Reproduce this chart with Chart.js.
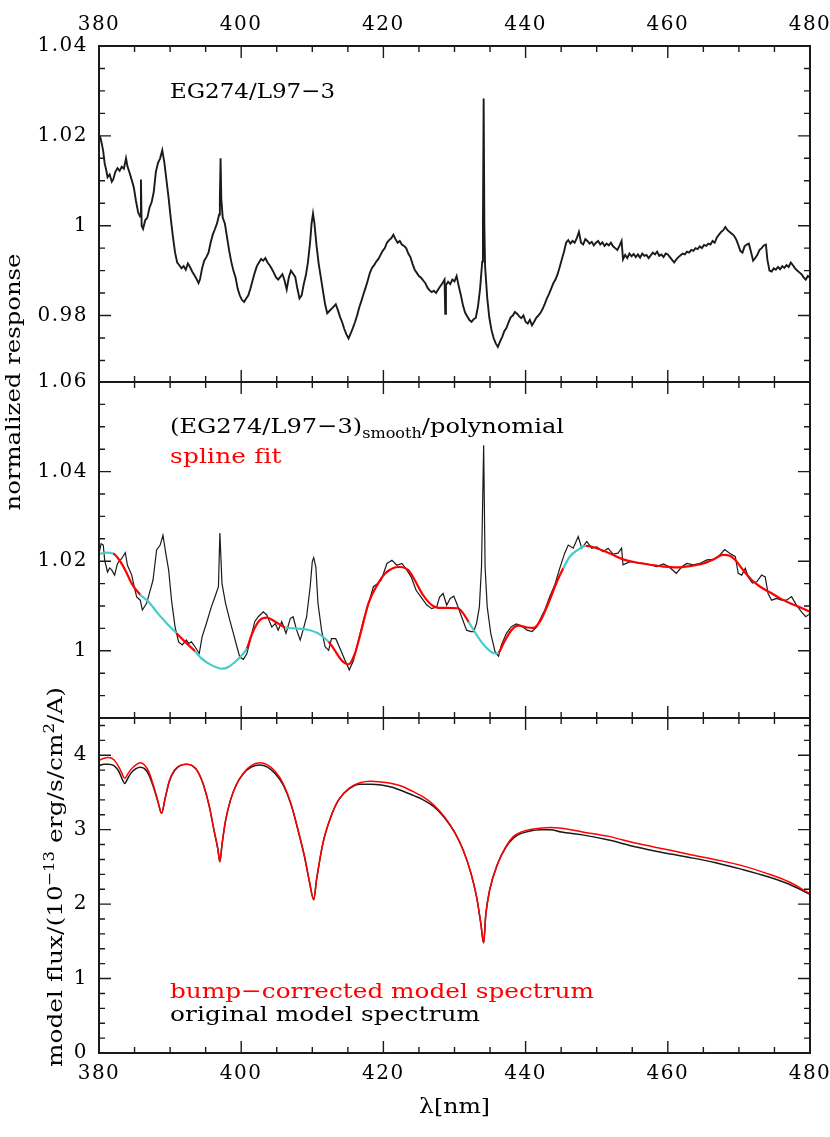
<!DOCTYPE html>
<html>
<head>
<meta charset="utf-8">
<script src="https://cdn.jsdelivr.net/npm/chart.js@4.4.0/dist/chart.umd.min.js"></script>
<style>
    body { margin: 0; background: #fff; }
    #wrap { position: relative; width: 830px; height: 1137px; }
    #wrap canvas { position: absolute; left: 0; top: 0; }
</style>
</head>
<body>
<div id="wrap">
    <canvas id="response" width="830" height="1137"></canvas>
    <canvas id="smooth" width="830" height="1137"></canvas>
    <canvas id="model" width="830" height="1137"></canvas>
</div>
<script>
// ---------------------------------------------------------------- data

const waveTicks = [380, 400, 420, 440, 460, 480];
const responseTicks = [0.98, 1, 1.02, 1.04];
const smoothTicks = [1, 1.02, 1.04, 1.06];
const fluxTicks = [0, 1, 2, 3, 4];

// top panel: EG274 / L97-3 response (nm, normalized)
const responseWave = [
    380.0, 380.2, 380.4, 380.6, 380.8, 381.0, 381.2, 381.5, 381.8, 382.0, 382.3, 382.6, 382.9, 383.2, 383.5, 383.8,
    384.0, 384.3, 384.6, 384.9, 385.2, 385.5, 385.8, 385.9, 386.0, 386.2, 386.5, 386.8, 387.1, 387.4, 387.7, 388.0,
    388.3, 388.6, 388.9, 389.2, 389.5, 389.8, 390.1, 390.4, 390.7, 391.0, 391.3, 391.6, 391.9, 392.2, 392.5, 392.8,
    393.1, 393.4, 393.7, 394.0, 394.2, 394.5, 394.8, 395.1, 395.4, 395.7, 396.0, 396.3, 396.6, 396.9, 397.0, 397.1,
    397.2, 397.4, 397.7, 398.0, 398.3, 398.6, 398.9, 399.2, 399.5, 399.8, 400.1, 400.4, 400.7, 401.0, 401.3, 401.6,
    401.9, 402.2, 402.5, 402.8, 403.1, 403.4, 403.7, 404.0, 404.3, 404.6, 404.9, 405.2, 405.5, 405.8, 406.1, 406.4,
    406.7, 407.0, 407.3, 407.6, 407.9, 408.2, 408.5, 408.8, 409.1, 409.4, 409.7, 409.9, 410.1, 410.3, 410.6, 410.9,
    411.2, 411.5, 411.8, 412.1, 412.4, 412.7, 413.0, 413.3, 413.6, 413.9, 414.2, 414.5, 414.8, 415.1, 415.4, 415.7,
    416.0, 416.3, 416.6, 416.9, 417.2, 417.5, 417.8, 418.1, 418.4, 418.7, 419.0, 419.3, 419.6, 419.9, 420.2, 420.5,
    420.8, 421.1, 421.4, 421.7, 422.0, 422.3, 422.6, 422.9, 423.2, 423.5, 423.8, 424.1, 424.4, 424.7, 425.0, 425.3,
    425.6, 425.9, 426.2, 426.5, 426.8, 427.1, 427.4, 427.7, 428.0, 428.3, 428.6, 428.7, 428.8, 429.1, 429.4, 429.7,
    430.0, 430.3, 430.6, 430.9, 431.2, 431.5, 431.8, 432.1, 432.4, 432.7, 433.0, 433.3, 433.6, 433.9, 434.0, 434.1,
    434.2, 434.3, 434.6, 434.9, 435.2, 435.5, 435.8, 436.1, 436.4, 436.7, 437.0, 437.3, 437.6, 437.9, 438.2, 438.5,
    438.8, 439.1, 439.4, 439.7, 440.0, 440.3, 440.6, 440.9, 441.2, 441.5, 441.8, 442.1, 442.4, 442.7, 443.0, 443.3,
    443.6, 443.9, 444.2, 444.5, 444.8, 445.1, 445.4, 445.7, 446.0, 446.3, 446.6, 446.9, 447.2, 447.5, 447.8, 448.1,
    448.4, 448.7, 449.0, 449.3, 449.6, 449.9, 450.2, 450.5, 450.8, 451.1, 451.4, 451.7, 452.0, 452.3, 452.6, 452.9,
    453.2, 453.5, 453.7, 454.0, 454.3, 454.6, 454.9, 455.2, 455.5, 455.8, 456.1, 456.4, 456.7, 457.0, 457.3, 457.6,
    457.9, 458.2, 458.5, 458.8, 459.1, 459.4, 459.7, 460.0, 460.3, 460.6, 460.9, 461.2, 461.5, 461.8, 462.1, 462.4,
    462.7, 463.0, 463.3, 463.6, 463.9, 464.2, 464.5, 464.8, 465.1, 465.4, 465.7, 466.0, 466.3, 466.6, 466.9, 467.2,
    467.5, 467.8, 468.1, 468.4, 468.7, 469.0, 469.3, 469.6, 469.9, 470.2, 470.5, 470.8, 471.1, 471.4, 471.7, 472.0,
    472.3, 472.6, 472.9, 473.2, 473.5, 473.8, 474.0, 474.3, 474.6, 474.9, 475.2, 475.5, 475.8, 476.1, 476.4, 476.7,
    477.0, 477.3, 477.6, 477.9, 478.2, 478.5, 478.8, 479.1, 479.4, 479.7, 480.0
];
const responseValue = [
    1.0190, 1.0196, 1.0182, 1.0165, 1.0138, 1.0125, 1.0108, 1.0114, 1.0098, 1.0103, 1.0120, 1.0128, 1.0122, 1.0131, 1.0127, 1.0150,
    1.0132, 1.0118, 1.0102, 1.0085, 1.0055, 1.0030, 1.0020, 1.0103, 1.0000, 0.9993, 1.0012, 1.0018, 1.0040, 1.0052, 1.0075, 1.0120,
    1.0140, 1.0150, 1.0168, 1.0140, 1.0100, 1.0060, 1.0015, 0.9975, 0.9940, 0.9918, 0.9912, 0.9905, 0.9910, 0.9902, 0.9916, 0.9908,
    0.9898, 0.9890, 0.9882, 0.9872, 0.9880, 0.9905, 0.9922, 0.9930, 0.9940, 0.9962, 0.9980, 0.9992, 1.0005, 1.0025, 1.0060, 1.0150,
    1.0060, 1.0018, 1.0005, 0.9975, 0.9945, 0.9920, 0.9900, 0.9885, 0.9860, 0.9845, 0.9835, 0.9830, 0.9838, 0.9845, 0.9860, 0.9878,
    0.9895, 0.9910, 0.9918, 0.9926, 0.9922, 0.9928, 0.9918, 0.9912, 0.9904, 0.9895, 0.9885, 0.9880, 0.9886, 0.9892, 0.9878, 0.9858,
    0.9885, 0.9900, 0.9893, 0.9886, 0.9860, 0.9838, 0.9845, 0.9870, 0.9890, 0.9920, 0.9965, 1.0005, 1.0027, 1.0005, 0.9955, 0.9915,
    0.9885, 0.9855, 0.9825, 0.9805, 0.9810, 0.9815, 0.9820, 0.9825, 0.9812, 0.9797, 0.9785, 0.9770, 0.9758, 0.9749, 0.9760, 0.9772,
    0.9785, 0.9800, 0.9818, 0.9832, 0.9848, 0.9862, 0.9878, 0.9895, 0.9906, 0.9912, 0.9920, 0.9926, 0.9935, 0.9944, 0.9950, 0.9962,
    0.9968, 0.9972, 0.9980, 0.9970, 0.9962, 0.9966, 0.9958, 0.9955, 0.9950, 0.9938, 0.9930, 0.9915, 0.9902, 0.9895, 0.9888, 0.9884,
    0.9878, 0.9872, 0.9862, 0.9856, 0.9852, 0.9855, 0.9850, 0.9858, 0.9865, 0.9872, 0.9880, 0.9804, 0.9868, 0.9875, 0.9870, 0.9880,
    0.9876, 0.9888, 0.9865, 0.9845, 0.9822, 0.9806, 0.9798, 0.9790, 0.9786, 0.9792, 0.9795, 0.9820, 0.9860, 0.9920, 1.0000, 1.0283,
    1.0000, 0.9910, 0.9840, 0.9795, 0.9768, 0.9750, 0.9738, 0.9730, 0.9742, 0.9752, 0.9765, 0.9772, 0.9785, 0.9796, 0.9800, 0.9808,
    0.9804, 0.9798, 0.9794, 0.9800, 0.9786, 0.9782, 0.9790, 0.9778, 0.9786, 0.9795, 0.9800, 0.9806, 0.9815, 0.9826, 0.9838, 0.9848,
    0.9860, 0.9872, 0.9880, 0.9892, 0.9908, 0.9925, 0.9942, 0.9962, 0.9968, 0.9960, 0.9966, 0.9962, 0.9972, 0.9986, 0.9962, 0.9958,
    0.9970, 0.9966, 0.9960, 0.9964, 0.9956, 0.9962, 0.9966, 0.9958, 0.9963, 0.9955, 0.9960, 0.9956, 0.9962, 0.9954, 0.9950, 0.9946,
    0.9955, 0.9966, 0.9925, 0.9935, 0.9928, 0.9938, 0.9932, 0.9937, 0.9930, 0.9936, 0.9929, 0.9938, 0.9933, 0.9935, 0.9928, 0.9934,
    0.9940, 0.9936, 0.9942, 0.9933, 0.9936, 0.9930, 0.9938, 0.9936, 0.9930, 0.9924, 0.9918, 0.9925, 0.9930, 0.9934, 0.9938, 0.9936,
    0.9942, 0.9940, 0.9946, 0.9944, 0.9950, 0.9948, 0.9954, 0.9950, 0.9957, 0.9955, 0.9960, 0.9958, 0.9966, 0.9962, 0.9974, 0.9980,
    0.9986, 0.9990, 0.9997, 0.9990, 0.9986, 0.9982, 0.9978, 0.9970, 0.9958, 0.9944, 0.9940, 0.9954, 0.9958, 0.9960, 0.9942, 0.9922,
    0.9928, 0.9935, 0.9946, 0.9950, 0.9956, 0.9958, 0.9925, 0.9900, 0.9898, 0.9905, 0.9902, 0.9908, 0.9903, 0.9910, 0.9906, 0.9912,
    0.9908, 0.9918, 0.9912, 0.9905, 0.9900, 0.9896, 0.9892, 0.9885, 0.9880, 0.9888, 0.9884
];

// middle panel: smoothed ratio divided by polynomial
const smoothWave = [
    380.0, 380.3, 380.6, 380.8, 381.2, 381.5, 381.8, 382.2, 382.6, 383.2, 383.7, 384.0, 384.6, 385.0, 385.3, 385.8,
    386.1, 386.7, 387.2, 387.6, 388.1, 388.6, 389.0, 389.4, 389.8, 390.2, 390.7, 391.2, 391.7, 392.3, 392.6, 393.0,
    393.5, 394.1, 394.5, 395.1, 395.8, 396.3, 396.8, 397.0, 397.3, 397.8, 398.4, 398.9, 399.4, 399.8, 400.3, 400.8,
    401.5, 401.9, 402.4, 403.1, 403.6, 404.3, 404.8, 405.2, 405.7, 406.3, 406.9, 407.3, 407.8, 408.3, 408.7, 409.2,
    409.7, 410.0, 410.2, 410.5, 410.8, 411.3, 411.8, 412.3, 412.7, 413.3, 413.9, 414.6, 415.2, 415.8, 416.5, 417.2,
    417.9, 418.6, 419.2, 419.7, 420.5, 421.2, 421.9, 422.6, 423.3, 423.9, 424.6, 425.3, 426.1, 426.8, 427.5, 427.9,
    428.4, 428.9, 429.4, 429.9, 430.3, 431.0, 431.7, 432.3, 432.7, 433.1, 433.5, 433.8, 434.1, 434.3, 434.6, 435.1,
    435.7, 436.2, 436.6, 437.3, 438.0, 438.7, 439.4, 440.2, 440.9, 441.6, 442.0, 442.7, 443.4, 444.1, 444.8, 445.5,
    446.0, 446.7, 447.4, 447.9, 448.6, 449.3, 450.0, 450.9, 451.6, 452.3, 453.0, 453.5, 453.7, 454.7, 455.6, 456.6,
    457.5, 458.4, 459.4, 460.1, 461.2, 462.0, 462.7, 463.6, 464.5, 465.5, 466.4, 467.1, 468.0, 468.7, 469.5, 469.9,
    470.4, 470.9, 471.3, 471.9, 472.5, 473.2, 473.7, 474.1, 474.6, 475.3, 476.0, 476.7, 477.4, 478.1, 478.8, 479.4,
    480.0
];
const smoothValue = [
    1.0217, 1.0239, 1.0236, 1.0202, 1.0176, 1.0185, 1.0180, 1.0169, 1.0195, 1.0206, 1.0219, 1.0191, 1.0169, 1.0140, 1.0120, 1.0113,
    1.0091, 1.0106, 1.0135, 1.0158, 1.0225, 1.0236, 1.0258, 1.0217, 1.0180, 1.0113, 1.0053, 1.0020, 1.0013, 1.0024, 1.0016, 1.0020,
    1.0009, 0.9994, 1.0031, 1.0061, 1.0098, 1.0120, 1.0143, 1.0263, 1.0150, 1.0106, 1.0068, 1.0039, 1.0009, 0.9986, 0.9981, 0.9994,
    1.0039, 1.0065, 1.0076, 1.0087, 1.0080, 1.0053, 1.0061, 1.0046, 1.0065, 1.0039, 1.0072, 1.0076, 1.0046, 1.0024, 1.0046, 1.0076,
    1.0143, 1.0199, 1.0208, 1.0187, 1.0106, 1.0046, 1.0009, 1.0001, 1.0027, 1.0027, 1.0005, 0.9979, 0.9957, 0.9979, 1.0024, 1.0068,
    1.0106, 1.0143, 1.0150, 1.0158, 1.0195, 1.0202, 1.0191, 1.0195, 1.0180, 1.0165, 1.0135, 1.0120, 1.0102, 1.0094, 1.0098, 1.0120,
    1.0128, 1.0102, 1.0117, 1.0122, 1.0106, 1.0076, 1.0046, 1.0043, 1.0043, 1.0061, 1.0098, 1.0188, 1.0459, 1.0188, 1.0098, 1.0039,
    0.9998, 0.9988, 1.0013, 1.0039, 1.0054, 1.0060, 1.0056, 1.0046, 1.0043, 1.0054, 1.0069, 1.0091, 1.0121, 1.0147, 1.0184, 1.0218,
    1.0236, 1.0229, 1.0255, 1.0229, 1.0244, 1.0229, 1.0232, 1.0221, 1.0229, 1.0216, 1.0218, 1.0229, 1.0192, 1.0199, 1.0197, 1.0195,
    1.0192, 1.0188, 1.0194, 1.0188, 1.0173, 1.0188, 1.0195, 1.0192, 1.0195, 1.0203, 1.0204, 1.0210, 1.0226, 1.0218, 1.0210, 1.0173,
    1.0169, 1.0184, 1.0165, 1.0151, 1.0154, 1.0169, 1.0165, 1.0128, 1.0113, 1.0117, 1.0113, 1.0113, 1.0121, 1.0102, 1.0087, 1.0076,
    1.0083
];

// middle panel: spline fit through the unmasked parts
const splineWave = [
    380.0, 381.0, 382.0, 382.7, 383.7, 384.6, 385.8, 387.0, 388.3, 389.8, 390.9, 392.1, 393.5, 394.4, 395.8, 397.3,
    398.2, 399.4, 400.3, 400.8, 401.5, 402.6, 403.6, 404.8, 406.2, 407.6, 409.4, 410.8, 411.8, 412.3, 413.0, 414.1,
    415.1, 416.0, 416.9, 417.9, 419.1, 420.2, 421.4, 422.3, 423.5, 424.4, 425.6, 426.8, 427.7, 429.1, 430.5, 431.2,
    432.0, 433.6, 434.8, 435.7, 436.2, 436.9, 438.0, 439.0, 440.2, 441.1, 442.0, 443.2, 444.4, 445.3, 446.2, 447.4,
    448.5, 450.0, 451.9, 453.7, 455.6, 457.5, 459.4, 461.2, 463.1, 465.0, 466.4, 467.8, 468.7, 469.7, 470.6, 471.8,
    473.0, 474.4, 475.8, 477.2, 478.6, 480.0
];
const splineValue = [
    1.0216, 1.0219, 1.0217, 1.0206, 1.0180, 1.0150, 1.0125, 1.0109, 1.0083, 1.0057, 1.0039, 1.0020, 0.9999, 0.9983, 0.9968, 0.9960,
    0.9964, 0.9979, 0.9994, 1.0005, 1.0037, 1.0068, 1.0074, 1.0065, 1.0052, 1.0050, 1.0047, 1.0039, 1.0027, 1.0020, 1.0005, 0.9979,
    0.9970, 0.9994, 1.0046, 1.0106, 1.0146, 1.0172, 1.0185, 1.0187, 1.0180, 1.0158, 1.0124, 1.0102, 1.0096, 1.0096, 1.0095, 1.0084,
    1.0064, 1.0024, 1.0002, 0.9994, 0.9996, 1.0017, 1.0046, 1.0056, 1.0052, 1.0051, 1.0065, 1.0106, 1.0154, 1.0184, 1.0210, 1.0226,
    1.0234, 1.0229, 1.0217, 1.0204, 1.0197, 1.0192, 1.0188, 1.0186, 1.0189, 1.0195, 1.0204, 1.0214, 1.0212, 1.0199, 1.0180, 1.0158,
    1.0143, 1.0130, 1.0117, 1.0106, 1.0097, 1.0087
];
// wavelength windows masked out of the fit (interpolated part of the spline)
const maskedRanges = [[380, 382.0], [385.8, 390.9], [393.5, 400.8], [406.2, 412.3], [432.0, 436.2], [445.3, 448.5]];

// bottom panel: model flux in 1e-13 erg/s/cm2/A
const modelWave = [
    380.0, 380.7, 381.3, 382.1, 382.8, 383.3, 383.6, 384.0, 384.5, 385.2, 385.8, 386.4, 387.0, 387.7, 388.3, 388.8,
    389.3, 389.9, 390.6, 391.4, 392.3, 393.1, 393.9, 394.7, 395.5, 396.2, 396.7, 397.0, 397.3, 397.8, 398.5, 399.3,
    400.3, 401.4, 402.6, 403.7, 404.8, 405.9, 407.0, 408.1, 408.9, 409.6, 410.2, 410.6, 411.5, 412.6, 413.7, 415.2,
    416.7, 418.2, 419.7, 421.2, 422.7, 424.2, 425.6, 427.1, 428.6, 430.1, 431.2, 432.3, 433.1, 433.7, 434.1, 434.4,
    434.95, 436.1, 437.2, 438.3, 439.4, 440.5, 442.0, 443.5, 445.0, 448.0, 451.7, 455.4, 460.0, 462.9, 466.6, 470.3,
    474.0, 477.0, 480.0
];
const correctedFlux = [
    3.93, 3.96, 3.97, 3.94, 3.84, 3.74, 3.69, 3.74, 3.81, 3.87, 3.90, 3.87, 3.78, 3.58, 3.38, 3.22,
    3.42, 3.66, 3.80, 3.86, 3.88, 3.86, 3.78, 3.60, 3.32, 2.98, 2.75, 2.57, 2.80, 3.12, 3.40, 3.60,
    3.76, 3.86, 3.90, 3.87, 3.78, 3.62, 3.35, 2.96, 2.64, 2.30, 2.06, 2.33, 2.82, 3.17, 3.40, 3.56,
    3.63, 3.65, 3.64, 3.62, 3.58, 3.51, 3.44, 3.33, 3.17, 2.95, 2.73, 2.42, 2.10, 1.74, 1.48, 1.86,
    2.19, 2.55, 2.77, 2.91, 2.97, 3.00, 3.02, 3.03, 3.02, 2.97, 2.91, 2.82, 2.73, 2.67, 2.60, 2.52,
    2.41, 2.30, 2.14
];
const originalFlux = [
    3.86, 3.88, 3.88, 3.86, 3.78, 3.67, 3.62, 3.68, 3.76, 3.82, 3.84, 3.82, 3.74, 3.56, 3.37, 3.22,
    3.42, 3.65, 3.79, 3.86, 3.88, 3.86, 3.78, 3.60, 3.32, 2.98, 2.75, 2.57, 2.80, 3.12, 3.40, 3.60,
    3.75, 3.84, 3.87, 3.84, 3.75, 3.60, 3.34, 2.95, 2.64, 2.30, 2.06, 2.33, 2.82, 3.17, 3.40, 3.55,
    3.61, 3.61, 3.60, 3.57, 3.52, 3.46, 3.40, 3.31, 3.16, 2.95, 2.73, 2.42, 2.10, 1.74, 1.48, 1.86,
    2.19, 2.55, 2.76, 2.89, 2.95, 2.98, 3.00, 3.00, 2.97, 2.93, 2.86, 2.77, 2.68, 2.63, 2.56, 2.47,
    2.37, 2.27, 2.13
];

// ---------------------------------------------------------------- layout

const CANVAS_W = 830;
const CANVAS_H = 1137;
const PLOT_LEFT = 99;
const PLOT_RIGHT = 810;
const FONT = "'DejaVu Serif', serif";
const INK = '#1a1a1a';
const RED = '#ff0000';
const CYAN = '#45cccc';

const points = (xs, ys) => xs.map((x, i) => ({ x: x, y: ys[i] }));
const isMasked = x => maskedRanges.some(r => x >= r[0] && x <= r[1]);

/**
 * Evenly spaced tick positions, counted in whole steps to keep floats clean
 */
const tickRange = (from, to, step) => {
    const out = [];
    for (let k = Math.round(from / step); k <= Math.round(to / step); k++) out.push(+(k * step).toFixed(6));
    return out;
};

/**
 * Draws one line of text made of pieces (sub/superscripts). The glyphs are
 * widened, then spaced, so the line spans `width` pixels like the wide
 * plotting font of the original.
 */
function drawPieces(ctx, pieces, x, y, width, color, centered) {
    ctx.save();
    ctx.fillStyle = color;
    ctx.textAlign = 'left';
    ctx.textBaseline = 'alphabetic';
    ctx.letterSpacing = '0px';
    const fontOf = p => `${p.size || 21}px ${FONT}`;
    let natural = 0, count = 0;
    pieces.forEach(p => {
        ctx.font = fontOf(p);
        p.w = ctx.measureText(p.text).width;
        natural += p.w;
        count += [...p.text].length;
    });
    const stretch = Math.max(1, Math.min(width / natural, 1.18));
    const spacing = (width - natural * stretch) / (count - 1) / stretch;   // in stretched units
    ctx.translate(centered ? x - width / 2 : x, y);
    ctx.scale(stretch, 1);
    let cx = 0;
    pieces.forEach(p => {
        ctx.font = fontOf(p);
        ctx.letterSpacing = spacing + 'px';
        ctx.fillText(p.text, cx, p.dy || 0);
        cx += p.w + [...p.text].length * spacing;
    });
    ctx.restore();
}

/**
 * Plugin: box round the panel with inward major and minor ticks on all four sides
 */
const frameTicks = (yMajor, yMinor) => ({
    id: 'frameTicks',
    beforeDraw(chart) {
        chart.ctx.letterSpacing = '1.5px';          // wide numerals like the original font
    },
    afterDatasetsDraw(chart) {
        const { ctx, chartArea: a, scales: { x, y } } = chart;
        ctx.save();
        ctx.strokeStyle = INK;
        ctx.lineWidth = 1.4;
        ctx.beginPath();
        const xMark = (v, len) => {
            const px = x.getPixelForValue(v);
            ctx.moveTo(px, a.top); ctx.lineTo(px, a.top + len);
            ctx.moveTo(px, a.bottom); ctx.lineTo(px, a.bottom - len);
        };
        const yMark = (v, len) => {
            const py = y.getPixelForValue(v);
            if (py < a.top - 0.5 || py > a.bottom + 0.5) return;
            ctx.moveTo(a.left, py); ctx.lineTo(a.left + len, py);
            ctx.moveTo(a.right, py); ctx.lineTo(a.right - len, py);
        };
        tickRange(380, 480, 5).forEach(v => xMark(v, 6));
        waveTicks.forEach(v => xMark(v, 12));
        yMinor.forEach(v => yMark(v, 6));
        yMajor.forEach(v => yMark(v, 12));
        ctx.stroke();
        ctx.lineWidth = 2;
        ctx.strokeRect(a.left, a.top, a.right - a.left, a.bottom - a.top);
        ctx.restore();
    }
});

/**
 * Plugin: free text of a panel (labels and axis titles)
 */
const panelText = draw => ({ id: 'panelText', afterDraw: chart => draw(chart.ctx) });

/**
 * Builds one of the three stacked panels on its own full-size canvas
 */
function makePanel(id, p) {
    const tickFont = { family: FONT, size: 20 };
    return new Chart(document.getElementById(id), {
        type: 'line',
        data: { datasets: p.datasets },
        options: {
            responsive: false,
            animation: false,
            events: [],
            layout: {
                padding: {
                    left: 0,
                    right: CANVAS_W - PLOT_RIGHT,
                    top: p.xAxis === 'top' ? 0 : p.top,
                    bottom: p.xAxis === 'bottom' ? 0 : CANVAS_H - p.bottom
                }
            },
            elements: { point: { radius: 0 } },
            plugins: { legend: { display: false }, tooltip: { enabled: false } },
            scales: {
                x: {
                    type: 'linear',
                    min: 380,
                    max: 480,
                    display: !!p.xAxis,
                    position: p.xAxis || 'bottom',
                    afterBuildTicks: s => { s.ticks = waveTicks.map(v => ({ value: v })); },
                    afterFit: s => {
                        if (p.xAxis) s.height = p.xAxis === 'top' ? p.top : CANVAS_H - p.bottom;
                        s.paddingLeft = 0;
                        s.paddingRight = 0;
                    },
                    grid: { display: false, drawTicks: false },
                    border: { display: false },
                    ticks: { autoSkip: false, maxRotation: 0, padding: 9, color: '#000', font: tickFont }
                },
                y: {
                    type: 'linear',
                    min: p.yMin,
                    max: p.yMax,
                    afterBuildTicks: s => { s.ticks = p.yTicks.map(v => ({ value: v })); },
                    afterFit: s => { s.width = PLOT_LEFT; s.paddingTop = 0; s.paddingBottom = 0; },
                    grid: { display: false, drawTicks: false },
                    border: { display: false },
                    ticks: { autoSkip: false, padding: 11, color: '#000', font: tickFont, callback: v => String(v) }
                }
            }
        },
        plugins: [frameTicks(p.yTicks, p.yMinor), panelText(p.text)]
    });
}

// top panel: raw response
makePanel('response', {
    top: 46, bottom: 382, xAxis: 'top',
    yMin: 0.9652, yMax: 1.04, yTicks: responseTicks, yMinor: tickRange(0.97, 1.04, 0.005),
    datasets: [{
        data: points(responseWave, responseValue),
        borderColor: INK,
        borderWidth: 1.9
    }],
    text: ctx => {
        drawPieces(ctx, [{ text: 'EG274/L97−3' }], 170, 98, 165, '#000');
    }
});

// middle panel: smoothed ratio with spline fit (cyan where masked)
makePanel('smooth', {
    top: 382, bottom: 718, xAxis: null,
    yMin: 0.985, yMax: 1.06, yTicks: smoothTicks, yMinor: tickRange(0.99, 1.06, 0.005),
    datasets: [{
        data: points(splineWave, splineValue),
        borderColor: RED,
        borderWidth: 2.2,
        cubicInterpolationMode: 'monotone',
        segment: {
            borderColor: c => isMasked((c.p0.parsed.x + c.p1.parsed.x) / 2) ? CYAN : RED
        }
    }, {
        data: points(smoothWave, smoothValue),
        borderColor: INK,
        borderWidth: 1.2
    }],
    text: ctx => {
        drawPieces(ctx, [
            { text: '(EG274/L97−3)' },
            { text: 'smooth', size: 14, dy: 5 },
            { text: '/polynomial' }
        ], 170, 433, 394, '#000');
        drawPieces(ctx, [{ text: 'spline fit' }], 170, 463, 111, RED);
        ctx.save();
        ctx.translate(20, 382);
        ctx.rotate(-Math.PI / 2);
        drawPieces(ctx, [{ text: 'normalized response' }], 0, 0, 257, '#000', true);
        ctx.restore();
    }
});

// bottom panel: model spectra
makePanel('model', {
    top: 718, bottom: 1053, xAxis: 'bottom',
    yMin: 0, yMax: 4.5, yTicks: fluxTicks, yMinor: tickRange(0, 4.4, 0.2),
    datasets: [{
        data: points(modelWave, correctedFlux),
        borderColor: RED,
        borderWidth: 1.5,
        cubicInterpolationMode: 'monotone'
    }, {
        data: points(modelWave, originalFlux),
        borderColor: INK,
        borderWidth: 1.5,
        cubicInterpolationMode: 'monotone'
    }],
    text: ctx => {
        drawPieces(ctx, [{ text: 'bump−corrected model spectrum' }], 170, 998, 424, RED);
        drawPieces(ctx, [{ text: 'original model spectrum' }], 170, 1021, 310, '#000');
        drawPieces(ctx, [{ text: 'λ[nm]' }], 454.5, 1113, 71, '#000', true);
        ctx.save();
        ctx.translate(62, 877);
        ctx.rotate(-Math.PI / 2);
        drawPieces(ctx, [
            { text: 'model flux/(10' },
            { text: '−13', size: 14, dy: -8 },
            { text: ' erg/s/cm' },
            { text: '2', size: 14, dy: -8 },
            { text: '/A)' }
        ], 0, 0, 380, '#000', true);
        ctx.restore();
    }
});
</script>
</body>
</html>
